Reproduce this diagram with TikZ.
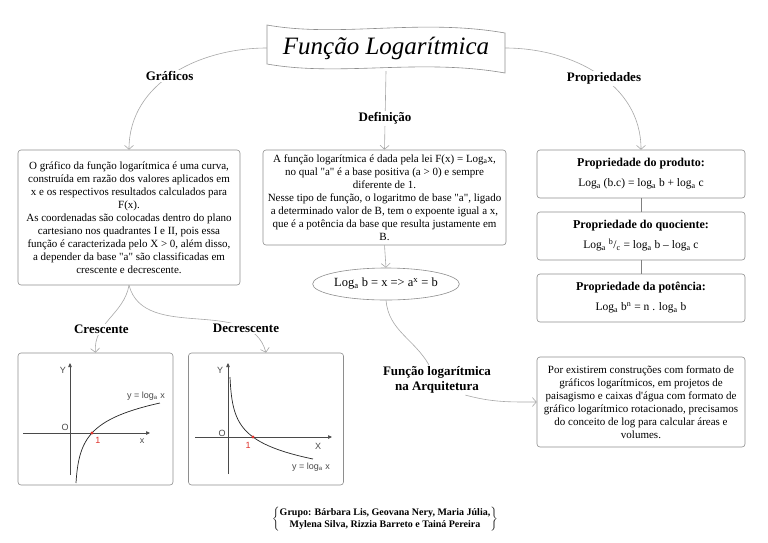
\documentclass[tikz,border=0pt]{standalone}
\usepackage{fontspec}
\setmainfont{Liberation Serif}[Ligatures=TeXOff]
\newfontfamily\axisfont{Liberation Sans}
\usetikzlibrary{arrows.meta,shapes.geometric}
\definecolor{linegray}{HTML}{A8A8A8}
\definecolor{boxgray}{HTML}{8E8E8E}
\definecolor{axisgray}{HTML}{4A4A4A}
\definecolor{dotred}{HTML}{E0302A}

\tikzset{
  box/.style={draw=boxgray,rounded corners=3pt,line width=.6pt,fill=white,align=center,inner sep=3pt,font=\fontsize{11}{13}\selectfont},
  propbox/.style={box,minimum width=208pt,minimum height=48pt,font=\fontsize{11.5}{13}\selectfont},
  graphbox/.style={box,minimum width=155pt,minimum height=132pt},
  lbl/.style={font=\fontsize{13}{15}\selectfont\bfseries,fill=white,inner sep=1.5pt,align=center},
  conn/.style={draw=linegray,line width=.6pt},
  arr/.style={conn,-{Straight Barb[length=4pt,width=9pt]}},
  propline/.style={draw=gray,line width=1pt},
  axis/.style={draw=axisgray,line width=.7pt,-{Triangle[length=4pt,width=3.5pt]}},
  curve/.style={draw=black!85,line width=.7pt},
  axlbl/.style={font=\axisfont\fontsize{9}{10}\selectfont,inner sep=0pt,text=axisgray},
}

\begin{document}
\begin{tikzpicture}[x=1pt,y=1pt]
  \useasboundingbox (0,0) rectangle (768,-542);
  \fill[white] (0,0) rectangle (768,-542);

  \draw[boxgray,line width=.6pt,fill=white] (267,-25) .. controls (340,-38) and (420,-18) .. (505,-33)
    -- (505,-73) .. controls (420,-58) and (340,-77) .. (267,-64) -- cycle;
  \node[minimum width=238pt,minimum height=46pt,font=\fontsize{25}{28}\selectfont\itshape] (title) at (386,-48) {Função Logarítmica};

  \node[box,minimum width=222pt,minimum height=135pt] (graf) at (129,-217.5) {O gráfico da função logarítmica é uma curva,\\ construída em razão dos valores aplicados em\\ x e os respectivos resultados calculados para\\ F(x).\\ As coordenadas são colocadas dentro do plano\\ cartesiano nos quadrantes I e II, pois essa\\ função é caracterizada pelo X > 0, além disso,\\ a depender da base "a" são classificadas em\\ crescente e decrescente.};

  \node[box,minimum width=243pt,minimum height=95pt] (def) at (384.5,-197.5) {A função logarítmica é dada pela lei F(x) = Log\textsubscript{a}x,\\ no qual "a" é a base positiva (a > 0) e sempre\\ diferente de 1.\\ Nesse tipo de função, o logaritmo de base "a", ligado\\ a determinado valor de B, tem o expoente igual a x,\\ que é a potência da base que resulta justamente em\\ B.};

  \node[draw=boxgray,line width=.6pt,ellipse,minimum width=136pt,minimum height=32pt,inner sep=0pt,font=\fontsize{12.5}{14}\selectfont] (eq) at (386,-284) {Log\textsubscript{a} b = x => a\textsuperscript{x} = b};

  \node[propbox] (prod) at (641,-174) {\fontsize{12}{13}\selectfont\textbf{Propriedade do produto:}\\[7pt] Log\textsubscript{a} (b.c) = log\textsubscript{a} b + log\textsubscript{a} c};
  \node[propbox] (quoc) at (641,-236) {\fontsize{12}{13}\selectfont\textbf{Propriedade do quociente:}\\[7pt] Log\textsubscript{a} \textsuperscript{b}/\textsubscript{c} = log\textsubscript{a} b – log\textsubscript{a} c};
  \node[propbox] (pot) at (641,-298) {\fontsize{12}{13}\selectfont\textbf{Propriedade da potência:}\\[7pt] Log\textsubscript{a} b\textsuperscript{n} = n . log\textsubscript{a} b};

  \node[lbl] (larq) at (437,-380) {Função logarítmica\\ na Arquitetura};
  \node[box,minimum width=208pt,minimum height=90pt] (arq) at (641,-402) {Por existirem construções com formato de\\ gráficos logarítmicos, em projetos de\\ paisagismo e caixas d'água com formato de\\ gráfico logarítmico rotacionado, precisamos\\ do conceito de log para calcular áreas e\\ volumes.};

  \node[graphbox] (gcres) at (95.5,-419) {};
  \node[graphbox] (gdec) at (266,-419) {};

  \draw[arr] (title.west) to[out=180,in=90] node[lbl,pos=.52] (lgraf) {Gráficos} (graf.north);
  \draw[arr] (title.east) to[out=0,in=90] node[lbl,pos=.54] (lprop) {Propriedades} (prod.north);
  \draw[arr] (title.south) -- node[lbl,pos=.6] (ldef) {Definição} (def.north);
  \draw[arr] (def.south) -- (eq.north);
  \draw[propline] (prod.south) -- (quoc.north);
  \draw[propline] (quoc.south) -- (pot.north);
  \draw[conn] (eq.south) to[out=-85,in=120] (larq.118);
  \draw[arr] (larq.-28) to[out=-15,in=180] (arq.west);
  \draw[arr] (graf.south) to[out=-100,in=95] node[lbl,pos=.68] (lcres) {Crescente} (gcres.north);
  \draw[arr] (graf.south) to[out=-75,in=105] node[lbl,pos=.79] (ldec) {Decrescente} (gdec.north);

  \draw[axis] (70,-475) -- (70,-363);
  \draw[axis] (23,-433) -- (150,-433);
  \draw[curve] plot[variable=\t,domain=-483:-403,samples=90,smooth] ({74.8+17.2*exp((\t+433)/18.75)},\t);
  \fill[dotred] (92,-433) circle (1.6);
  \node[axlbl] at (63,-370) {Y};
  \node[axlbl] at (65,-427) {O};
  \node[axlbl,text=dotred] at (98,-440) {1};
  \node[axlbl] at (142,-441) {x};
  \node[axlbl] at (146,-396) {y = log\textsubscript{a} x};

  \draw[axis] (228,-474) -- (228,-363);
  \draw[axis] (195,-437) -- (332,-437);
  \draw[curve] plot[variable=\t,domain=-459:-377,samples=90,smooth] ({229.25+23.75*exp((-\t-437)/17.46)},\t);
  \fill[dotred] (253,-437) circle (1.6);
  \node[axlbl] at (220,-370) {Y};
  \node[axlbl] at (222,-433) {O};
  \node[axlbl,text=dotred] at (248,-445) {1};
  \node[axlbl] at (318,-446) {X};
  \node[axlbl] at (311,-467) {y = log\textsubscript{a} x};

  \node[font=\fontsize{10}{12.5}\selectfont\bfseries] (grupo) at (385,-519) {$\left\{\begin{tabular}{@{}c@{}}Grupo: Bárbara Lis, Geovana Nery, Maria Júlia,\\ Mylena Silva, Rizzia Barreto e Tainá Pereira\end{tabular}\right\}$};
\end{tikzpicture}
\end{document}
